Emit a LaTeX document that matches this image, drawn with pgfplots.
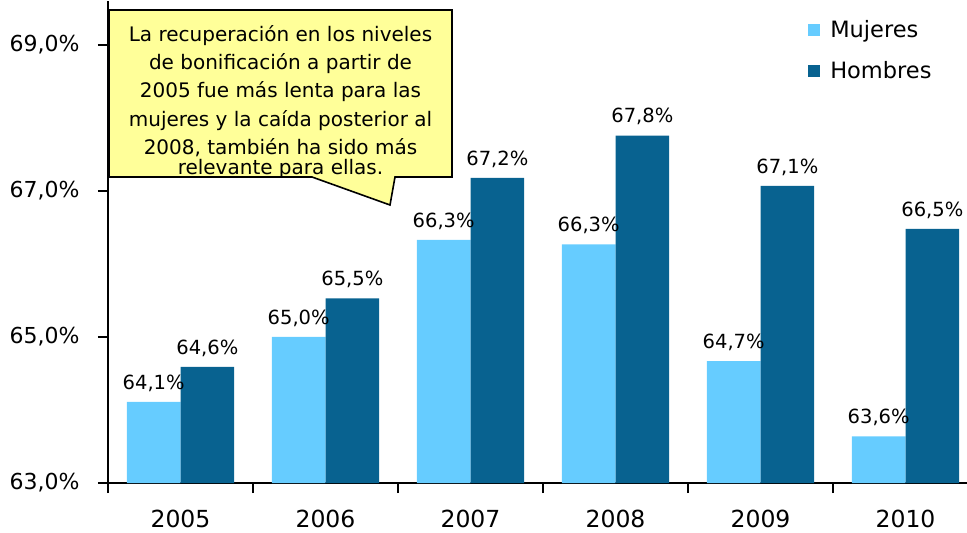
\documentclass[border=0pt]{standalone}
\usepackage{fontspec}
\setmainfont{DejaVu Sans}
\usepackage{pgfplots}
\pgfplotsset{compat=1.18}
\definecolor{mujeres}{RGB}{102,204,255}
\definecolor{hombres}{RGB}{8,98,144}
\definecolor{nota}{RGB}{255,255,153}

\begin{document}
\begin{tikzpicture}
\begin{axis}[
  scale only axis, width=859pt, height=481.8pt,
  at={(0pt,0pt)}, anchor=south west,
  xmin=-0.5, xmax=5.424, ymin=63, ymax=69.6,
  ybar=0pt, bar width=0.37,
  axis x line=bottom, axis y line=left,
  x axis line style={-, line width=2.4pt},
  y axis line style={-, line width=1.6pt},
  xtick={-0.5,0.5,1.5,2.5,3.5,4.5}, xticklabels={},
  extra x ticks={0,1,2,3,4,5},
  extra x tick labels={2005,2006,2007,2008,2009,2010},
  extra x tick style={major tick length=0pt, xticklabel style={inner sep=1pt, yshift=-26pt, font=\fontsize{23.5}{28}\selectfont}},
  ytick={63,65,67,69},
  yticklabels={{63,0\%},{65,0\%},{67,0\%},{69,0\%}},
  yticklabel style={font=\fontsize{22}{26}\selectfont, xshift=-15pt},
  tick align=outside, major tick length=10pt,
  tick style={black, line width=1.2pt},
  /pgf/number format/assume math mode=true,
  nodes near coords={\pgfmathprintnumber[fixed,fixed zerofill,precision=1,use comma]{\pgfplotspointmeta}\%},
  nodes near coords style={font=\fontsize{19.5}{22}\selectfont, black, anchor=south, yshift=7pt},
  legend style={draw=none, fill=none, at={(0.815,0.965)}, anchor=north west,
    font=\fontsize{22.5}{27}\selectfont, row sep=19pt, inner sep=0pt,
    /tikz/every odd column/.append style={column sep=8pt}},
  legend cell align=left,
  legend image code/.code={\fill[#1] (0pt,-6pt) rectangle (12pt,6pt);},
]
\addplot[fill=mujeres, draw=none] coordinates {
  (0,64.11) (1,65.00) (2,66.33) (3,66.27) (4,64.67) (5,63.64)
};
\addlegendentry{Mujeres}
\addplot[fill=hombres, draw=none] coordinates {
  (0,64.59) (1,65.53) (2,67.18) (3,67.76) (4,67.07) (5,66.48)
};
\addlegendentry{Hombres}
\end{axis}

% callout
\fill[nota] (1pt,473pt) -- (344pt,473pt) -- (344pt,306pt) -- (287pt,306pt)
  -- (282pt,278pt) -- (204pt,306pt) -- (1pt,306pt) -- cycle;
\begin{scope}
  \clip (1pt,307pt) rectangle (344pt,473pt);
  \begin{scope}[every node/.style={anchor=base, inner sep=0pt, font=\fontsize{20}{24}\selectfont}]
    \node at (172.5pt,441pt) {La recuperación en los niveles};
    \node at (172.5pt,413pt) {de bonificación a partir de};
    \node at (172.5pt,385pt) {2005 fue más lenta para las};
    \node at (172.5pt,356pt) {mujeres y la caída posterior al};
    \node at (172.5pt,328pt) {2008, también ha sido más};
    \node at (172.5pt,308.5pt) {relevante para ellas.};
  \end{scope}
\end{scope}
\draw[line width=1.6pt, line join=miter] (1pt,473pt) -- (344pt,473pt) -- (344pt,306pt) -- (287pt,306pt)
  -- (282pt,278pt) -- (204pt,306pt) -- (1pt,306pt) -- cycle;

\pgfresetboundingbox
\useasboundingbox (-108pt,-50pt) rectangle (859pt,483pt);
\end{tikzpicture}
\end{document}
